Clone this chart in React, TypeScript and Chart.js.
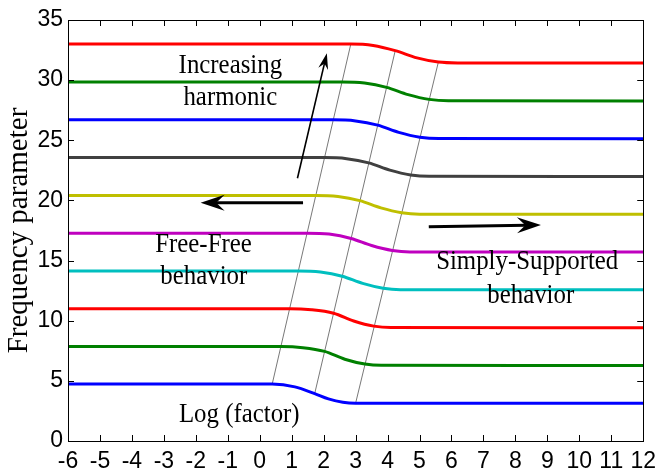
import React, { useEffect, useRef } from "react";
import { Chart, registerables } from "chart.js";

Chart.register(...registerables);

// Tick values
const xTickValues = [-6, -5, -4, -3, -2, -1, 0, 1, 2, 3, 4, 5, 6, 7, 8, 9, 10, 11, 12];
const yTickValues = [0, 5, 10, 15, 20, 25, 30, 35];

// Frequency parameter curves vs Log(factor): [x, y]
const mode1 = [[-6, 4.73], [0.39, 4.73], [1.1, 4.5], [1.72, 3.94], [2.15, 3.5], [2.6, 3.22], [3.0, 3.14], [12, 3.14]];
const mode2 = [[-6, 7.85], [0.67, 7.85], [1.35, 7.76], [2.03, 7.45], [2.66, 6.8], [3.29, 6.4], [3.8, 6.29], [12, 6.28]];
const mode3 = [[-6, 11.0], [0.94, 11.0], [1.62, 10.91], [2.31, 10.62], [2.94, 9.98], [3.57, 9.55], [4.1, 9.43], [12, 9.42]];
const mode4 = [[-6, 14.14], [1.21, 14.14], [1.9, 14.05], [2.58, 13.7], [3.22, 13.1], [3.86, 12.7], [4.4, 12.58], [12, 12.57]];
const mode5 = [[-6, 17.28], [1.49, 17.28], [2.17, 17.2], [2.86, 16.84], [3.5, 16.25], [4.15, 15.84], [4.7, 15.72], [12, 15.71]];
const mode6 = [[-6, 20.42], [1.76, 20.42], [2.45, 20.33], [3.13, 19.98], [3.79, 19.38], [4.44, 18.98], [5.0, 18.86], [12, 18.85]];
const mode7 = [[-6, 23.56], [2.03, 23.56], [2.72, 23.47], [3.41, 23.12], [4.07, 22.52], [4.72, 22.12], [5.3, 22.0], [12, 21.99]];
const mode8 = [[-6, 26.7], [2.3, 26.7], [3.0, 26.61], [3.69, 26.26], [4.35, 25.66], [5.01, 25.26], [5.6, 25.14], [12, 25.13]];
const mode9 = [[-6, 29.85], [2.58, 29.85], [3.28, 29.76], [3.97, 29.4], [4.64, 28.8], [5.3, 28.4], [5.9, 28.28], [12, 28.27]];
const mode10 = [[-6, 33.0], [2.85, 33.0], [3.55, 32.88], [4.24, 32.45], [4.92, 31.85], [5.59, 31.5], [6.2, 31.43], [12, 31.42]];

const modes = [mode1, mode2, mode3, mode4, mode5, mode6, mode7, mode8, mode9, mode10];
const modeColors = ["#0000ff", "#008000", "#ff0000", "#00bfbf", "#bf00bf", "#bfbf00", "#404040", "#0000ff", "#008000", "#ff0000"];

// Thin guide lines across the transition region
const guide1 = [[0.39, 4.73], [2.85, 33.0]];
const guide2 = [[1.72, 3.94], [4.24, 32.45]];
const guide3 = [[3.0, 3.14], [5.59, 31.5]];
const guides = [guide1, guide2, guide3];

// Annotation arrows (data coords): [tail, head]
const arrowHarmonic = [[1.18, 21.84], [2.1, 32.23]];
const arrowFreeFree = [[1.355, 19.81], [-1.85, 19.81]];
const arrowSimply = [[5.29, 17.82], [8.8, 17.96]];

// Annotation texts: [text, x, y(baseline)]
const labelTexts: [string, number, number][] = [
  ["Increasing", -0.92, 30.59],
  ["harmonic", -0.92, 27.93],
  ["Free-Free", -1.76, 15.74],
  ["behavior", -1.75, 13.05],
  ["Simply-Supported", 8.37, 14.27],
  ["behavior", 8.48, 11.5],
  ["Log (factor)", -0.64, 1.6],
];

const toXY = (arr: number[][]) => arr.map(([x, y]) => ({ x, y }));

function drawArrow(ctx: CanvasRenderingContext2D, x1: number, y1: number, x2: number, y2: number, lw: number, headLen: number, headHalf: number) {
  const ang = Math.atan2(y2 - y1, x2 - x1);
  const c = Math.cos(ang), s = Math.sin(ang);
  ctx.save();
  ctx.strokeStyle = "#000";
  ctx.fillStyle = "#000";
  ctx.lineWidth = lw;
  ctx.lineCap = "butt";
  ctx.beginPath();
  ctx.moveTo(x1, y1);
  ctx.lineTo(x2 - c * headLen * 0.6, y2 - s * headLen * 0.6);
  ctx.stroke();
  const bx = x2 - c * headLen, by = y2 - s * headLen;
  const nx = x2 - c * headLen * 0.65, ny = y2 - s * headLen * 0.65;
  ctx.beginPath();
  ctx.moveTo(x2, y2);
  ctx.lineTo(bx - s * headHalf, by + c * headHalf);
  ctx.lineTo(nx, ny);
  ctx.lineTo(bx + s * headHalf, by - c * headHalf);
  ctx.closePath();
  ctx.fill();
  ctx.restore();
}

const annotationPlugin = {
  id: "annotationPlugin",
  afterDatasetsDraw(chart: any) {
    const ctx: CanvasRenderingContext2D = chart.ctx;
    const xs = chart.scales.x, ys = chart.scales.y;
    const px = (v: number) => xs.getPixelForValue(v);
    const py = (v: number) => ys.getPixelForValue(v);
    drawArrow(ctx, px(arrowHarmonic[0][0]), py(arrowHarmonic[0][1]), px(arrowHarmonic[1][0]), py(arrowHarmonic[1][1]), 1.6, 16, 5);
    drawArrow(ctx, px(arrowFreeFree[0][0]), py(arrowFreeFree[0][1]), px(arrowFreeFree[1][0]), py(arrowFreeFree[1][1]), 3, 24, 8);
    drawArrow(ctx, px(arrowSimply[0][0]), py(arrowSimply[0][1]), px(arrowSimply[1][0]), py(arrowSimply[1][1]), 3, 24, 8);
    ctx.save();
    ctx.fillStyle = "#000";
    ctx.font = "27px 'Liberation Serif', serif";
    ctx.textAlign = "center";
    ctx.textBaseline = "alphabetic";
    for (const [t, x, y] of labelTexts) {
      ctx.save();
      ctx.translate(px(x), py(y));
      ctx.scale(0.92, 1);
      ctx.fillText(t, 0, 0);
      ctx.restore();
    }
    ctx.restore();
  },
  afterDraw(chart: any) {
    const ctx: CanvasRenderingContext2D = chart.ctx;
    const { left, right, top, bottom } = chart.chartArea;
    const xs = chart.scales.x, ys = chart.scales.y;
    const tl = 6;
    ctx.save();
    ctx.strokeStyle = "#000";
    ctx.lineWidth = 1;
    ctx.beginPath();
    for (const v of xTickValues) {
      const x = Math.round(xs.getPixelForValue(v)) + 0.5;
      ctx.moveTo(x, bottom);
      ctx.lineTo(x, bottom - tl);
      ctx.moveTo(x, top);
      ctx.lineTo(x, top + tl);
    }
    for (const v of yTickValues) {
      const y = Math.round(ys.getPixelForValue(v)) + 0.5;
      ctx.moveTo(left, y);
      ctx.lineTo(left + tl, y);
      ctx.moveTo(right, y);
      ctx.lineTo(right - tl, y);
    }
    ctx.stroke();
    ctx.strokeRect(Math.round(left) + 0.5, Math.round(top) + 0.5, Math.round(right - left), Math.round(bottom - top));
    ctx.restore();
  },
};

export default function App() {
  const canvasRef = useRef<HTMLCanvasElement | null>(null);

  useEffect(() => {
    const canvas = canvasRef.current;
    if (!canvas) return;
    const datasets: any[] = modes.map((m, i) => ({
      data: toXY(m),
      borderColor: modeColors[i],
      borderWidth: 3,
      pointRadius: 0,
      fill: false,
      cubicInterpolationMode: "monotone",
      showLine: true,
    }));
    guides.forEach((g) => {
      datasets.push({
        data: toXY(g),
        borderColor: "#555555",
        borderWidth: 0.8,
        pointRadius: 0,
        fill: false,
        showLine: true,
      });
    });
    const tickFont = { family: "'Liberation Sans', Arial, sans-serif", size: 23 };
    const chart = new Chart(canvas, {
      type: "scatter",
      data: { datasets },
      options: {
        responsive: false,
        devicePixelRatio: 1,
        animation: false,
        layout: { padding: { left: 0, right: 15, top: 20, bottom: 0 } },
        plugins: { legend: { display: false }, tooltip: { enabled: false } },
        scales: {
          x: {
            type: "linear",
            min: -6,
            max: 12,
            grid: { display: false, drawTicks: false },
            border: { display: false },
            afterBuildTicks: (s: any) => {
              s.ticks = xTickValues.map((v) => ({ value: v }));
            },
            afterFit: (s: any) => {
              s.height = 31;
            },
            ticks: { autoSkip: false, maxRotation: 0, minRotation: 0, color: "#000", font: tickFont, padding: 7 },
          },
          y: {
            type: "linear",
            min: 0,
            max: 35,
            grid: { display: false, drawTicks: false },
            border: { display: false },
            afterBuildTicks: (s: any) => {
              s.ticks = yTickValues.map((v) => ({ value: v }));
            },
            afterFit: (s: any) => {
              s.width = 68;
            },
            ticks: { autoSkip: false, color: "#000", font: tickFont, padding: 5 },
            title: {
              display: true,
              text: "Frequency parameter",
              color: "#000",
              font: { family: "'Liberation Serif', serif", size: 29, weight: "normal" },
              padding: { top: 2, bottom: 0 },
            },
          },
        },
      },
      plugins: [annotationPlugin],
    } as any);
    return () => chart.destroy();
  }, []);

  return (
    <div style={{ position: "absolute", left: 0, top: 0, width: 663, height: 472 }}>
      <canvas ref={canvasRef} width={663} height={472} style={{ display: "block" }} />
    </div>
  );
}
